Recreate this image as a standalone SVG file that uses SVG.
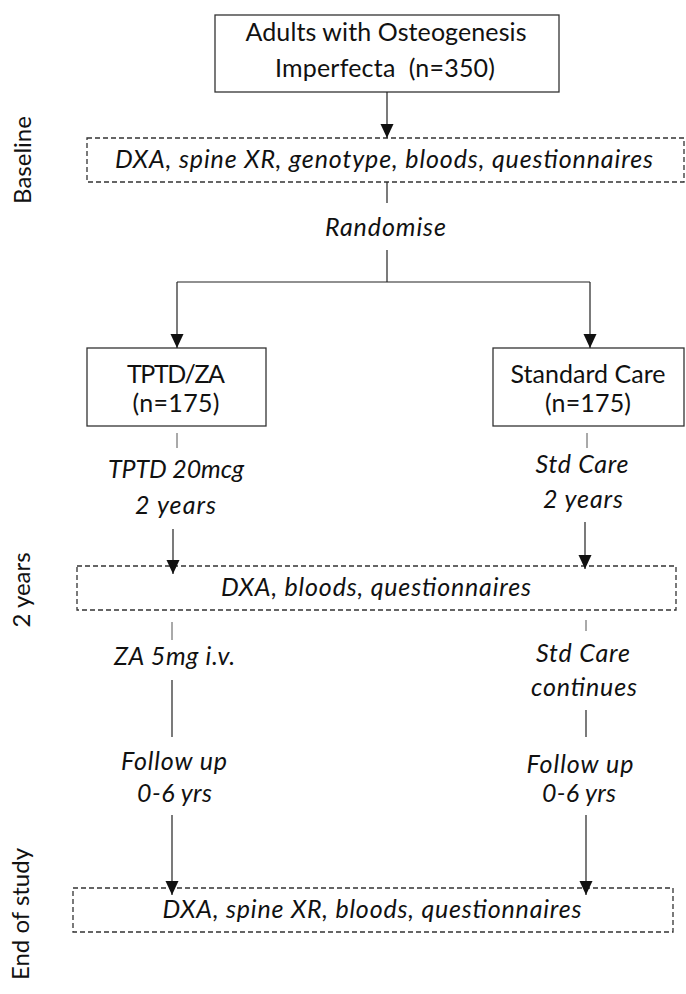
<svg xmlns="http://www.w3.org/2000/svg" width="686" height="994" viewBox="0 0 686 994">
<style>
.t{font-family:Lato,"Liberation Sans",Arial,sans-serif;font-size:25px;fill:#111;text-anchor:middle}
.i{font-style:italic}
.side{font-family:Lato,"Liberation Sans",Arial,sans-serif;font-size:24px;fill:#111;text-anchor:middle}
.box{fill:#fff;stroke:#333;stroke-width:1.3}
.dash{fill:none;stroke:#333;stroke-width:1.3;stroke-dasharray:5 3}
.ln{stroke:#222;stroke-width:1.2;fill:none}
.lg{stroke:#555;stroke-width:1;fill:none}
</style>
<defs>
<marker id="ah" viewBox="0 0 14 14" refX="14" refY="7" markerWidth="14" markerHeight="14" markerUnits="userSpaceOnUse" orient="auto">
<path d="M0,0.5 L14,7 L0,13.5 z" fill="#111"/>
</marker>
</defs>
<rect width="686" height="994" fill="#fff"/>
<g id="side-labels">
<text class="side" transform="translate(31,160) rotate(-90)">Baseline</text>
<text class="side" transform="translate(30,590) rotate(-90)">2 years</text>
<text class="side" transform="translate(29,914) rotate(-90)">End of study</text>
</g>
<g id="n-adults">
<rect class="box" x="215" y="15" width="344" height="77"/>
<text class="t" x="386" y="41" textLength="281">Adults with Osteogenesis</text>
<text class="t" x="385" y="77" textLength="220" xml:space="preserve">Imperfecta  (n=350)</text>
</g>
<g id="n-baseline">
<rect class="dash" x="87" y="138" width="597" height="44"/>
<text class="t i" x="384" y="168" textLength="538">DXA, spine XR, genotype, bloods, questionnaires</text>
</g>
<g id="n-randomise">
<text class="t i" x="385.5" y="236" textLength="121">Randomise</text>
</g>
<g id="n-tptd">
<rect class="box" x="87" y="348" width="179" height="78"/>
<text class="t" x="176" y="383" textLength="98">TPTD/ZA</text>
<text class="t" x="176" y="412" textLength="87">(n=175)</text>
</g>
<g id="n-std">
<rect class="box" x="493" y="348" width="191" height="78"/>
<text class="t" x="588" y="383" textLength="155">Standard Care</text>
<text class="t" x="588" y="412" textLength="86">(n=175)</text>
</g>
<g id="n-tptd-label">
<text class="t i" x="176" y="478" textLength="136">TPTD 20mcg</text>
<text class="t i" x="175.5" y="514" textLength="81">2 years</text>
</g>
<g id="n-std-label">
<text class="t i" x="582" y="473" textLength="93">Std Care</text>
<text class="t i" x="583" y="508" textLength="80">2 years</text>
</g>
<g id="n-2yr">
<rect class="dash" x="77" y="566" width="599" height="44"/>
<text class="t i" x="376" y="596" textLength="310">DXA, bloods, questionnaires</text>
</g>
<g id="n-za">
<text class="t i" x="174.5" y="665" textLength="121">ZA 5mg i.v.</text>
</g>
<g id="n-std-cont">
<text class="t i" x="583" y="662" textLength="94">Std Care</text>
<text class="t i" x="584" y="696" textLength="106">continues</text>
</g>
<g id="n-fu-left">
<text class="t i" x="174" y="770" textLength="106">Follow up</text>
<text class="t i" x="174.5" y="802" textLength="75">0-6 yrs</text>
</g>
<g id="n-fu-right">
<text class="t i" x="580" y="773" textLength="107">Follow up</text>
<text class="t i" x="579" y="802" textLength="74">0-6 yrs</text>
</g>
<g id="n-end">
<rect class="dash" x="73" y="888" width="600" height="44"/>
<text class="t i" x="372" y="918" textLength="419">DXA, spine XR, bloods, questionnaires</text>
</g>
<g id="connectors">
<line class="ln" x1="387" y1="92" x2="387" y2="138" marker-end="url(#ah)"/>
<line class="ln" x1="387" y1="182" x2="387" y2="203"/>
<line class="ln" x1="387" y1="250" x2="387" y2="282"/>
<line class="ln" x1="177" y1="282" x2="590" y2="282"/>
<line class="ln" x1="177" y1="282" x2="177" y2="348" marker-end="url(#ah)"/>
<line class="ln" x1="590" y1="282" x2="590" y2="348" marker-end="url(#ah)"/>
<line class="lg" x1="177" y1="433" x2="177" y2="448"/>
<line class="lg" x1="587" y1="433" x2="587" y2="448"/>
<line class="ln" x1="173" y1="529" x2="173" y2="574" marker-end="url(#ah)"/>
<line class="ln" x1="585" y1="522" x2="585" y2="569" marker-end="url(#ah)"/>
<line class="lg" x1="172" y1="622" x2="172" y2="640"/>
<line class="lg" x1="586" y1="620" x2="586" y2="631"/>
<line class="ln" x1="172" y1="680" x2="172" y2="737"/>
<line class="ln" x1="586" y1="710" x2="586" y2="737"/>
<line class="ln" x1="172" y1="815" x2="172" y2="895" marker-end="url(#ah)"/>
<line class="ln" x1="586" y1="815" x2="586" y2="895" marker-end="url(#ah)"/>
</g>
</svg>
